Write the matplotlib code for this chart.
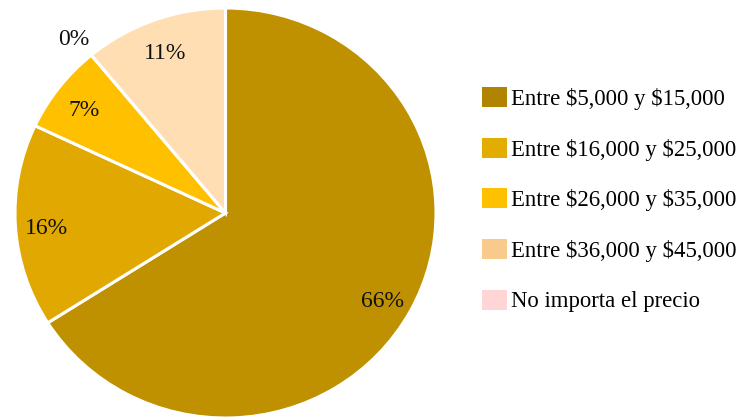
import numpy as np
import matplotlib
matplotlib.use("Agg")
import matplotlib.pyplot as plt
from matplotlib.patches import Patch

# --- data --------------------------------------------------------------------
categories = ["Entre \\$5,000 y \\$15,000", "Entre \\$16,000 y \\$25,000",
              "Entre \\$26,000 y \\$35,000", "No importa el precio",
              "Entre \\$36,000 y \\$45,000"]
values = [66, 16, 7, 0, 11]
pie_colors = ["#BF9000", "#E0A800", "#FFC000", "#FFD3D3", "#FFDEB3"]

legend_order = [0, 1, 2, 4, 3]
legend_colors = ["#B08300", "#E3AC00", "#FFC000", "#F8CA8C", "#FFD5D5"]

plt.rcParams["font.family"] = ["Liberation Serif", "DejaVu Serif"]

W, H = 744, 419
fig = plt.figure(figsize=(W / 100, H / 100), dpi=100)

# pie is slightly squashed vertically in the reference
cx, cy, rx, ry = 225.5, 213, 210.5, 205
ax = fig.add_axes([(cx - rx) / W, (H - cy - ry) / H, 2 * rx / W, 2 * ry / H])
wedges, _ = ax.pie(values, colors=pie_colors, startangle=90, counterclock=False,
                   radius=1.0, wedgeprops=dict(edgecolor="white", linewidth=2.2))
ax.set_xlim(-1, 1); ax.set_ylim(-1, 1)
ax.set_aspect("auto"); ax.axis("off")

# percentage labels at wedge mid-angles
cum = np.cumsum([0] + values[:-1])
for v, c0 in zip(values, cum):
    ang = np.deg2rad(90 - 360 * (c0 + v / 2) / sum(values))
    d = 1.13 if v == 0 else 0.85
    ax.text(d * np.cos(ang), d * np.sin(ang) - 0.01, f"{v}%", ha="center",
            va="center_baseline", fontsize=17, color="#111111")

handles = [Patch(facecolor=legend_colors[i], edgecolor="none") for i in range(5)]
labels = [categories[i] for i in legend_order]
fig.legend(handles, labels, loc="upper left", bbox_to_anchor=(482 / W, 1 - 87 / H),
           frameon=False, fontsize=16.4, labelspacing=1.22, handlelength=1.08,
           handleheight=0.98, handletextpad=0.2, borderaxespad=0, borderpad=0)

fig.savefig("out.png", dpi=100)
